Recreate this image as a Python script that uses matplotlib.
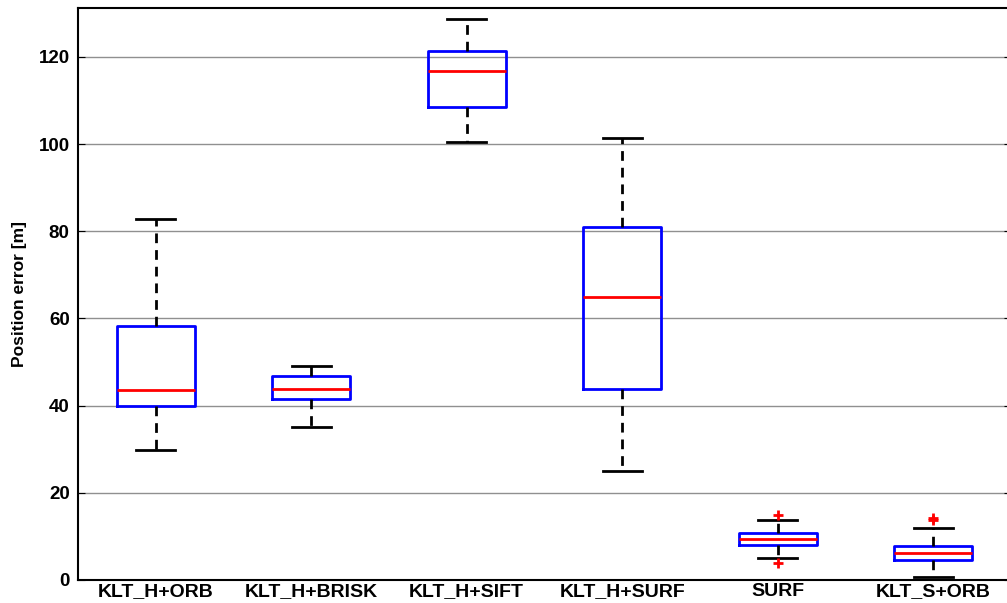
import matplotlib
matplotlib.use("Agg")
import matplotlib.pyplot as plt

labels = ['KLT_H+ORB', 'KLT_H+BRISK', 'KLT_H+SIFT', 'KLT_H+SURF', 'SURF', 'KLT_S+ORB']
whislo = [29.8, 35.1, 100.5, 25.0, 5.0, 0.7]
q1 = [39.9, 41.5, 108.5, 43.8, 8.0, 4.6]
med = [43.6, 43.9, 116.7, 64.9, 9.5, 6.2]
q3 = [58.2, 46.8, 121.3, 80.9, 10.7, 7.8]
whishi = [82.7, 49.1, 128.7, 101.3, 13.7, 11.9]
fliers = [[], [], [], [], [14.9, 3.9], [14.3, 13.7]]

plt.rcParams['font.family'] = ['Liberation Sans', 'DejaVu Sans']
plt.rcParams['font.weight'] = 'bold'

fig = plt.figure(figsize=(10.07, 6.03), dpi=100)
ax = fig.add_axes([78 / 1007, 23 / 603, 933 / 1007, 572 / 603])

stats = []
for i in range(len(labels)):
    stats.append({'label': labels[i], 'whislo': whislo[i], 'q1': q1[i], 'med': med[i],
                  'q3': q3[i], 'whishi': whishi[i], 'fliers': fliers[i]})

ax.bxp(stats, positions=range(1, 7), widths=0.5, showfliers=True,
       boxprops=dict(color='blue', linewidth=2),
       medianprops=dict(color='red', linewidth=2),
       whiskerprops=dict(color='black', linestyle=(0, (3.5, 2.5)), linewidth=2),
       capprops=dict(color='black', linewidth=2),
       capwidths=0.25,
       flierprops=dict(marker='+', markeredgecolor='red', markersize=7, markeredgewidth=2))

ax.set_xlim(0.5, 6.5)
ax.set_ylim(0, 131.2)
ax.set_yticks([0, 20, 40, 60, 80, 100, 120])
ax.yaxis.grid(True, color='#909090', linewidth=1)
ax.set_axisbelow(True)
ax.tick_params(axis='y', direction='in', right=True, length=5, labelsize=13.5, pad=6)
ax.tick_params(axis='x', direction='in', length=0, labelsize=14, pad=2)
for lab in ax.get_xticklabels() + ax.get_yticklabels():
    lab.set_fontweight('bold')
for s in ax.spines.values():
    s.set_linewidth(1.5)
ax.set_ylabel('Position error [m]', fontsize=12.5, fontweight='bold', labelpad=8)

fig.savefig('out.png', dpi=100)
